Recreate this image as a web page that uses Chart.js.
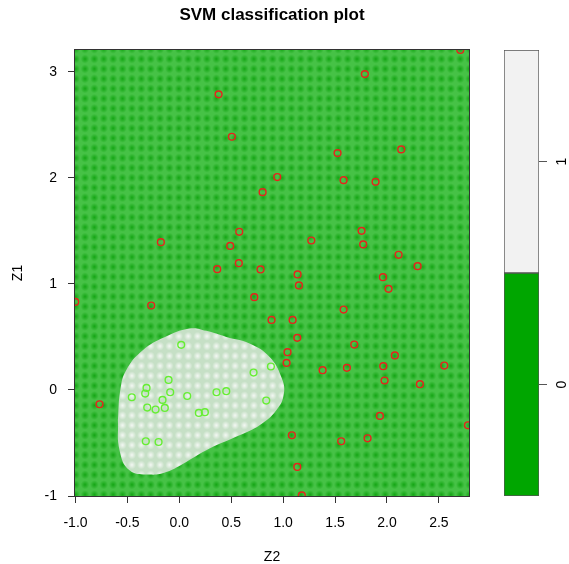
<!DOCTYPE html>
<html>
<head>
<meta charset="utf-8">
<script src="https://cdn.jsdelivr.net/npm/chart.js@4/dist/chart.umd.min.js"></script>
<style>
  body { margin: 0; background: #fff; }
  #wrap { position: relative; width: 569px; height: 564px; }
  #mainChart { position: absolute; left: 0; top: 0; }
  #keyChart { position: absolute; left: 480px; top: 0; }
</style>
</head>
<body>
<div id="wrap">
  <canvas id="mainChart" width="569" height="564"></canvas>
  <canvas id="keyChart" width="89" height="564"></canvas>
</div>
<script>
// axis ticks
const xTicks = [-1.0, -0.5, 0.0, 0.5, 1.0, 1.5, 2.0, 2.5];
const yTicks = [-1, 0, 1, 2, 3];

// class 0 (red)
const class0Z2 = [0.888, 1.091, 1.136, 1.042, 1.033, 1.084, 1.136, -0.769, 1.582, 1.685,
  2.076, 1.380, 1.614, 1.964, 2.552, 1.977, 2.317, 1.932, 2.780, 1.559,
  1.813, 1.180, 0.378, 0.506, 2.706, 1.787, 1.524, 2.137, 0.943, 1.582,
  1.890, 0.802, 0.577, -0.178, 0.490, 1.271, 0.573, 0.365, 0.782, 1.139,
  1.152, 0.722, -0.271, -1.003, 1.755, 1.771, 2.112, 2.295, 1.961, 2.015];
const class0Z1 = [0.660, 0.660, 0.491, 0.356, 0.255, -0.427, -0.726, -0.135, 0.758, 0.428,
  0.325, 0.186, 0.208, 0.224, 0.230, 0.089, 0.054, -0.245, -0.333, -0.484,
  -0.456, -0.994, 2.787, 2.387, 3.205, 2.978, 2.233, 2.268, 2.007, 1.978,
  1.962, 1.865, 1.491, 1.393, 1.358, 1.409, 1.195, 1.139, 1.136, 1.089,
  0.985, 0.875, 0.796, 0.830, 1.500, 1.372, 1.274, 1.167, 1.063, 0.953];

// class 1 (green)
const class1Z2 = [0.018, -0.104, -0.316, -0.329, -0.088, -0.458, 0.076, -0.162, 0.358, 0.452,
  -0.309, -0.229, -0.140, 0.188, 0.246, -0.323, -0.200, 0.715, 0.882, 0.837];
const class1Z1 = [0.425, 0.094, 0.019, -0.034, -0.022, -0.069, -0.057, -0.094, -0.022, -0.012,
  -0.166, -0.185, -0.170, -0.217, -0.210, -0.484, -0.491, 0.164, 0.221, -0.100];

// decision boundary of class 1 region
const boundaryZ2 = [-0.592, -0.569, -0.512, -0.352, -0.143, 0.098, 0.259, 0.452, 0.676, 0.869,
  0.982, 1.007, 0.934, 0.773, 0.580, 0.291, 0.066, -0.126, -0.287, -0.480, -0.576, -0.592];
const boundaryZ1 = [-0.286, -0.003, 0.186, 0.375, 0.497, 0.579, 0.557, 0.500, 0.438, 0.311,
  0.123, -0.034, -0.192, -0.333, -0.428, -0.553, -0.679, -0.774, -0.798, -0.758, -0.569, -0.286];

// key
const keyLevels = ['0', '1'];
const keyColors = ['#00A600', '#F2F2F2'];

const FONT = '"Liberation Sans", Arial, Helvetica, sans-serif';
Chart.defaults.font.family = FONT;
Chart.defaults.font.size = 14;
Chart.defaults.color = '#000';

const toPoints = (xs, ys) => xs.map((x, i) => ({x: x, y: ys[i]}));

const dotPattern = (ctx, base, dot, area, w, h, ox, oy) => {
    const c = document.createElement('canvas');
    c.width = 20; c.height = 20;
    const g = c.getContext('2d');
    g.fillStyle = base;
    g.fillRect(0, 0, 20, 20);
    const rg = g.createRadialGradient(10, 10, 0, 10, 10, 9);
    rg.addColorStop(0, dot);
    rg.addColorStop(1, base);
    g.fillStyle = rg;
    g.fillRect(0, 0, 20, 20);
    const p = ctx.createPattern(c, 'repeat');
    p.setTransform(new DOMMatrix().translate(area.left + ox - w / 2, area.top + oy - h / 2).scale(w / 20, h / 20));
    return p;
};

// green background + frame
const plotBg = {
    id: 'plotBg',
    beforeDatasetsDraw(chart) {
        const {ctx, chartArea: a} = chart;
        ctx.save();
        ctx.fillStyle = dotPattern(ctx, 'rgb(70,194,70)', 'rgb(20,166,20)', a, 9.38, 9.9, 10, 9);
        ctx.fillRect(a.left, a.top, a.right - a.left, a.bottom - a.top);
        ctx.restore();
    },
    afterDatasetsDraw(chart) {
        const {ctx, chartArea: a} = chart;
        ctx.save();
        ctx.strokeStyle = '#333';
        ctx.lineWidth = 1;
        ctx.strokeRect(a.left - 0.5, a.top - 0.5, a.right - a.left + 1, a.bottom - a.top + 1);
        ctx.restore();
    }
};

new Chart(document.getElementById('mainChart'), {
    type: 'scatter',
    data: {
        datasets: [
            {
                data: toPoints(class1Z2, class1Z1),
                pointStyle: 'circle',
                pointRadius: 3.4,
                pointBorderWidth: 1.4,
                borderColor: '#66ee33',
                backgroundColor: 'rgba(0,0,0,0)',
                clip: 0,
                order: 1
            },
            {
                data: toPoints(class0Z2, class0Z1),
                pointStyle: 'circle',
                pointRadius: 3.4,
                pointBorderWidth: 1.4,
                borderColor: '#e8221c',
                backgroundColor: 'rgba(0,0,0,0)',
                clip: 0,
                order: 2
            },
            {
                data: toPoints(boundaryZ2, boundaryZ1),
                showLine: true,
                tension: 0.45,
                fill: 'shape',
                borderWidth: 0,
                borderColor: 'rgba(0,0,0,0)',
                pointRadius: 0,
                backgroundColor: (c) => {
                    const a = c.chart.chartArea;
                    if (!a) return 'rgb(205,225,205)';
                    return dotPattern(c.chart.ctx, 'rgb(198,224,198)', 'rgb(244,248,244)', a, 9.38, 9.9, 10, 9);
                },
                order: 3
            }
        ]
    },
    options: {
        responsive: false,
        animation: false,
        layout: {padding: {left: 0, top: 0, right: 100, bottom: 0}},
        plugins: {
            legend: {display: false},
            tooltip: {enabled: false},
            title: {
                display: true,
                text: 'SVM classification plot',
                fullSize: false,
                font: {size: 17, weight: 'bold'},
                color: '#000',
                padding: {top: 5, bottom: 24.6}
            }
        },
        scales: {
            x: {
                type: 'linear',
                min: -1.005,
                max: 2.79,
                afterBuildTicks: (s) => { s.ticks = xTicks.map(v => ({value: v})); },
                afterFit: (s) => { s.height = 68; },
                ticks: {
                    callback: (v) => Number(v).toFixed(1),
                    padding: 12,
                    maxRotation: 0,
                    color: '#000'
                },
                grid: {drawOnChartArea: false, drawTicks: true, tickLength: 7, color: '#333'},
                border: {display: true, color: '#333'},
                title: {display: true, text: 'Z2', color: '#000', padding: {top: 0, bottom: -2}}
            },
            y: {
                type: 'linear',
                min: -1.0,
                max: 3.205,
                afterBuildTicks: (s) => { s.ticks = yTicks.map(v => ({value: v})); },
                afterFit: (s) => { s.width = 75; },
                ticks: {
                    callback: (v) => String(v),
                    padding: 11,
                    color: '#000'
                },
                grid: {drawOnChartArea: false, drawTicks: true, tickLength: 7, color: '#333'},
                border: {display: true, color: '#333'},
                title: {display: true, text: 'Z1', color: '#000', padding: {top: 10, bottom: 0}}
            }
        }
    },
    plugins: [plotBg]
});

// colour key
new Chart(document.getElementById('keyChart'), {
    type: 'bar',
    data: {
        labels: [''],
        datasets: keyLevels.map((lv, i) => ({
            label: lv,
            data: [[i, i + 1]],
            backgroundColor: keyColors[i],
            borderColor: '#555',
            borderWidth: 1,
            borderSkipped: false,
            grouped: false,
            barPercentage: 1,
            categoryPercentage: 1
        }))
    },
    options: {
        responsive: false,
        animation: false,
        layout: {padding: {left: 24, top: 50, bottom: 68, right: 0}},
        plugins: {legend: {display: false}, tooltip: {enabled: false}},
        scales: {
            x: {display: false},
            y: {
                position: 'right',
                min: 0,
                max: 2,
                afterBuildTicks: (s) => { s.ticks = keyLevels.map((_, i) => ({value: i + 0.5})); },
                afterFit: (s) => { s.width = 30; },
                ticks: {
                    callback: (v, i) => keyLevels[i],
                    minRotation: 90,
                    maxRotation: 90,
                    crossAlign: 'center',
                    padding: 11,
                    color: '#000'
                },
                grid: {drawOnChartArea: false, drawTicks: true, tickLength: 8, color: '#555'},
                border: {display: false}
            }
        }
    }
});
</script>
</body>
</html>
